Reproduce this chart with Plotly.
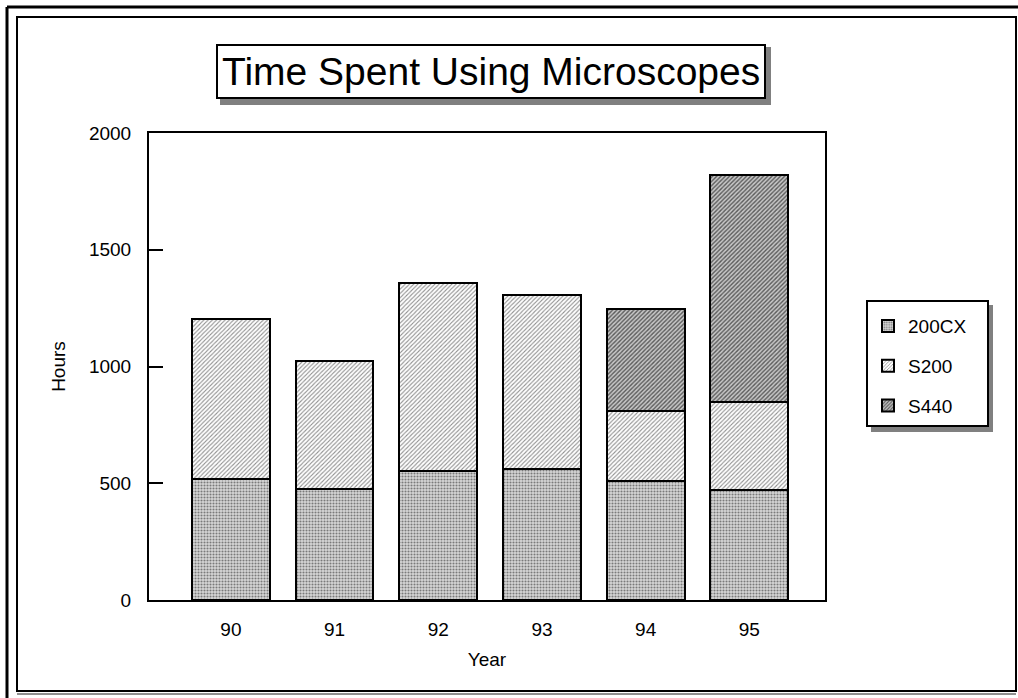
import plotly.graph_objects as go

years = ["90", "91", "92", "93", "94", "95"]
cx200 = [520, 475, 552, 561, 510, 472]
s200 = [685, 550, 806, 746, 300, 378]
s440 = [0, 0, 0, 0, 437, 970]
series_names = ["200CX", "S200", "S440"]
y_ticks = [0, 500, 1000, 1500, 2000]

W, H = 1018, 698
L, R, T, B = 149, 825, 133, 600

def px(x):
    return (x - L) / (R - L)

def py(y):
    return (B - y) / (B - T)

FONT = "Liberation Sans, Arial, sans-serif"
PAD = "\u00a0\u00a0\u00a0"

styles = [
    dict(shape=".", fgcolor="#7a7a7a", bgcolor="#d8d8d8", size=3, solidity=0.4),
    dict(shape="/", fgcolor="#909090", bgcolor="#ffffff", size=3, solidity=0.35),
    dict(shape="/", fgcolor="#5a5a5a", bgcolor="#c8c8c8", size=3, solidity=0.45),
]

fig = go.Figure()
for name, vals, st in zip(series_names, [cx200, s200, s440], styles):
    fig.add_trace(go.Bar(
        x=years, y=vals, name=name + PAD, width=0.75, legendgroup=name,
        marker=dict(color=st["bgcolor"], line=dict(color="black", width=2),
                    pattern=dict(shape=st["shape"], fgcolor=st["fgcolor"], bgcolor=st["bgcolor"],
                                 size=st["size"], solidity=st["solidity"], fillmode="replace")),
    ))

shapes = []
# outer frame
shapes.append(dict(type="line", xref="paper", yref="paper", x0=px(7), x1=px(1030), y0=py(7), y1=py(7),
                   line=dict(color="black", width=3)))
shapes.append(dict(type="line", xref="paper", yref="paper", x0=px(7), x1=px(7), y0=py(7), y1=py(710),
                   line=dict(color="black", width=3)))
shapes.append(dict(type="rect", xref="paper", yref="paper", x0=px(17), x1=px(1016), y0=py(17), y1=py(691),
                   line=dict(color="black", width=2), layer="below"))
shapes.append(dict(type="line", xref="paper", yref="paper", x0=px(17), x1=px(1016), y0=py(694), y1=py(694),
                   line=dict(color="#909090", width=2)))
# title shadow
shapes.append(dict(type="rect", xref="paper", yref="paper", x0=px(220), x1=px(771), y0=py(47), y1=py(105),
                   fillcolor="#808080", line=dict(width=0), layer="below"))
# legend shadow
shapes.append(dict(type="rect", xref="paper", yref="paper", x0=px(871), x1=px(993), y0=py(305), y1=py(432),
                   fillcolor="#808080", line=dict(width=0), layer="below"))

fig.update_layout(
    width=W, height=H,
    margin=dict(l=L, r=W - R, t=T, b=H - B, pad=0),
    paper_bgcolor="white", plot_bgcolor="white",
    barmode="stack", bargap=0.25,
    font=dict(family=FONT, color="black", size=19),
    showlegend=True,
    legend=dict(x=px(866), y=py(300), xanchor="left", yanchor="top",
                bgcolor="white", bordercolor="black", borderwidth=2,
                traceorder="grouped", tracegroupgap=12, itemwidth=30,
                title=dict(text=" ", font=dict(size=4)),
                font=dict(family=FONT, size=19, color="black")),
    shapes=shapes,
    annotations=[dict(text="Time Spent Using Microscopes", xref="paper", yref="paper",
                      x=px(491), y=py(71), xanchor="center", yanchor="middle", showarrow=False,
                      font=dict(family=FONT, size=39, color="black"),
                      bgcolor="white", bordercolor="black", borderwidth=2, borderpad=4)],
    xaxis=dict(type="category", range=[-0.79, 5.73], showline=True, linecolor="black", linewidth=2,
               mirror=True, ticks="", showgrid=False, zeroline=False, ticklabelstandoff=11,
               tickfont=dict(size=19), title=dict(text="Year", font=dict(size=19), standoff=14)),
    yaxis=dict(range=[0, 2000], tickvals=y_ticks, showline=True, linecolor="black", linewidth=2,
               mirror=True, ticks="inside", ticklen=14, tickwidth=2, tickcolor="black",
               showgrid=False, zeroline=False, ticklabelstandoff=12,
               tickfont=dict(size=19), title=dict(text="Hours", font=dict(size=19), standoff=18)),
)

fig.write_html("out.html")
